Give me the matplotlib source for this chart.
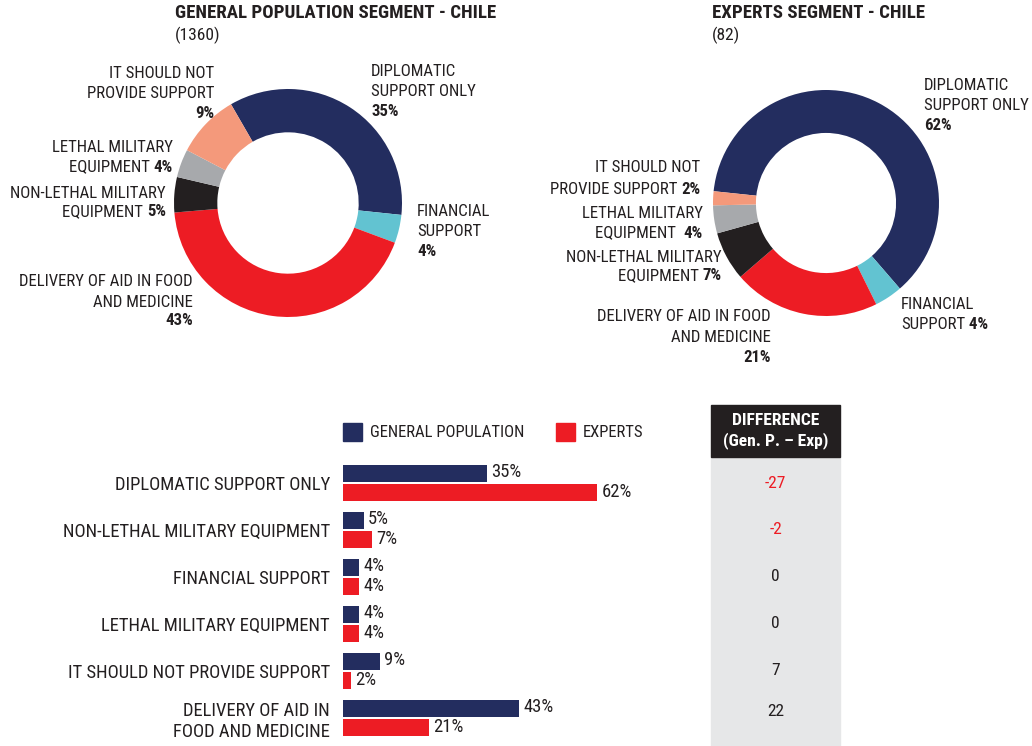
import matplotlib
matplotlib.use("Agg")
import matplotlib.pyplot as plt
import matplotlib.transforms as mtransforms
from matplotlib import font_manager
from matplotlib.patches import Rectangle
from matplotlib.text import Annotation

# prefer a condensed sans face; fall back to regular width at a smaller size
_available = {f.name for f in font_manager.fontManager.ttflist}
FAMILY = "Liberation Sans"
for cand in ["Liberation Sans Narrow", "Arial Narrow", "Roboto Condensed",
             "Open Sans Condensed", "Noto Sans Condensed"]:
    if cand in _available:
        FAMILY = cand
        break
SCALE = 1.0 if FAMILY != "Liberation Sans" else 0.86
plt.rcParams["font.family"] = [FAMILY, "DejaVu Sans"]

# ---- data ----
categories = [
    "DIPLOMATIC SUPPORT ONLY",
    "NON-LETHAL MILITARY EQUIPMENT",
    "FINANCIAL SUPPORT",
    "LETHAL MILITARY EQUIPMENT",
    "IT SHOULD NOT PROVIDE SUPPORT",
    "DELIVERY OF AID IN\nFOOD AND MEDICINE",
]
general = [35, 5, 4, 4, 9, 43]
experts = [62, 7, 4, 4, 2, 21]
general_n = 1360
experts_n = 82

# slice order around the donuts (indices into categories)
pie_order = [0, 2, 5, 1, 3, 4]

NAVY = "#232d5f"
RED = "#ed1c24"
CYAN = "#62c3d1"
BLACK = "#231f20"
GRAY = "#a7a9ac"
SALMON = "#f4997b"
TEXT = "#231f20"
slice_colors = {0: NAVY, 2: CYAN, 5: RED, 1: BLACK, 3: GRAY, 4: SALMON}

W, H = 1032, 746
fig = plt.figure(figsize=(W / 100, H / 100), dpi=100)

FS_DONUT = 12.1 * SCALE
FS_BAR = 13.4 * SCALE
FS_TITLE = 13.6 * SCALE
FS_LEG = 12 * SCALE


def fx(x):
    return x / W


def fy(y):
    return 1 - y / H


def donut(cx, cy, r, values, start):
    ax = fig.add_axes([fx(cx - r), fy(cy + r), 2 * r / W, 2 * r / H])
    vals = [values[i] for i in pie_order]
    cols = [slice_colors[i] for i in pie_order]
    ax.pie(vals, colors=cols, startangle=start, counterclock=False, radius=1,
           wedgeprops=dict(width=0.38, linewidth=0))
    ax.set_xlim(-1, 1)
    ax.set_ylim(-1, 1)
    ax.set_aspect("equal")
    ax.axis("off")
    return ax


def label_line(x, y, normal, bold, ha, fs):
    """One label line: regular text with an optional bold percentage after it."""
    kw = dict(fontsize=fs, color=TEXT)
    if ha == "right":
        anchor = fig.text(fx(x), fy(y), bold or normal, ha="right", va="center",
                          fontweight="bold" if bold else "normal", **kw)
        if bold and normal:
            fig.add_artist(Annotation(normal + " ", xy=(0, 0), xycoords=anchor,
                                      ha="right", va="bottom", **kw))
    else:
        anchor = fig.text(fx(x), fy(y), normal or bold, ha="left", va="center",
                          fontweight="normal" if normal else "bold", **kw)
        if bold and normal:
            fig.add_artist(Annotation(" " + bold, xy=(1, 0), xycoords=anchor,
                                      ha="left", va="bottom", fontweight="bold", **kw))


def pct(v):
    return f"{v}%"


# ---- donuts ----
donut(288, 203, 114, general, 120)
donut(826, 203, 113, experts, 174)

# (category index, x, alignment, [(y, regular text, bold flag)])
gen_labels = [
    (0, 371, "left", [(71, "DIPLOMATIC", False), (91, "SUPPORT ONLY", False), (112, "", True)]),
    (2, 417, "left", [(211, "FINANCIAL", False), (231, "SUPPORT", False), (251, "", True)]),
    (5, 193, "right", [(282, "DELIVERY OF AID IN FOOD", False), (302, "AND MEDICINE", False), (321, "", True)]),
    (1, 166, "right", [(193, "NON-LETHAL MILITARY", False), (212, "EQUIPMENT", True)]),
    (3, 173, "right", [(147, "LETHAL MILITARY", False), (167, "EQUIPMENT", True)]),
    (4, 214, "right", [(73, "IT SHOULD NOT", False), (93, "PROVIDE SUPPORT", False), (113, "", True)]),
]
exp_labels = [
    (0, 924, "left", [(85, "DIPLOMATIC", False), (105, "SUPPORT ONLY", False), (126, "", True)]),
    (2, 901, "left", [(305, "FINANCIAL", False), (325, "SUPPORT", True)]),
    (5, 771, "right", [(316, "DELIVERY OF AID IN FOOD", False), (337, "AND MEDICINE", False), (357, "", True)]),
    (1, 722, "right", [(257, "NON-LETHAL MILITARY", False), (276, "EQUIPMENT", True)]),
    (3, 703, "right", [(213, "LETHAL MILITARY", False), (233, "EQUIPMENT ", True)]),
    (4, 700, "right", [(168, "IT SHOULD NOT", False), (189, "PROVIDE SUPPORT", True)]),
]
for values, labels in ((general, gen_labels), (experts, exp_labels)):
    for idx, x, ha, lines in labels:
        for y, text, has_bold in lines:
            label_line(x, y, text, pct(values[idx]) if has_bold else "", ha, FS_DONUT)

fig.text(fx(175), fy(13), "GENERAL POPULATION SEGMENT - CHILE", fontsize=FS_TITLE,
         fontweight="bold", color=TEXT, ha="left", va="center")
fig.text(fx(175), fy(35), f"({general_n})", fontsize=FS_DONUT * 1.04, color=TEXT,
         ha="left", va="center")
fig.text(fx(712), fy(13), "EXPERTS SEGMENT - CHILE", fontsize=FS_TITLE,
         fontweight="bold", color=TEXT, ha="left", va="center")
fig.text(fx(712), fy(35), f"({experts_n})", fontsize=FS_DONUT * 1.04, color=TEXT,
         ha="left", va="center")

# ---- grouped horizontal bars ----
ax = fig.add_axes([fx(343), fy(746), 410 / W, (746 - 440) / H])
ypos = list(range(len(categories)))
bar_h = 0.36
off = 0.2
ax.barh([y - off for y in ypos], general, height=bar_h, color=NAVY, linewidth=0)
ax.barh([y + off for y in ypos], experts, height=bar_h, color=RED, linewidth=0)
for y, g, e in zip(ypos, general, experts):
    ax.annotate(f"{g}%", (g, y - off), xytext=(3, 1), textcoords="offset points",
                va="center", ha="left", fontsize=FS_BAR, color=TEXT)
    ax.annotate(f"{e}%", (e, y + off), xytext=(3, 0), textcoords="offset points",
                va="center", ha="left", fontsize=FS_BAR, color=TEXT)
ax.set_xlim(0, 100)
ax.set_ylim(5.596, -0.915)
ax.set_yticks(ypos)
ax.set_yticklabels(categories, fontsize=FS_BAR, color=TEXT)
ax.tick_params(axis="y", length=0, pad=9.5)
ax.set_xticks([])
for s in ax.spines.values():
    s.set_visible(False)
ax.patch.set_alpha(0)

# legend
fig.patches.append(Rectangle((fx(343), fy(441)), 19 / W, 18 / H, color=NAVY,
                             transform=fig.transFigure, figure=fig))
fig.text(fx(370), fy(432), "GENERAL POPULATION", fontsize=FS_LEG, color=TEXT,
         ha="left", va="center")
fig.patches.append(Rectangle((fx(556), fy(441)), 19 / W, 18 / H, color=RED,
                             transform=fig.transFigure, figure=fig))
fig.text(fx(583), fy(432), "EXPERTS", fontsize=FS_LEG, color=TEXT,
         ha="left", va="center")

# ---- difference column ----
fig.patches.append(Rectangle((fx(711), fy(746)), 129 / W, (746 - 457) / H,
                             color="#e6e7e8", transform=fig.transFigure, figure=fig,
                             zorder=0))
fig.patches.append(Rectangle((fx(711), fy(457)), 129 / W, 52 / H,
                             color=BLACK, transform=fig.transFigure, figure=fig,
                             zorder=0))
fig.text(fx(775.5), fy(420), "DIFFERENCE", fontsize=FS_LEG * 1.05, fontweight="bold",
         color="white", ha="center", va="center")
fig.text(fx(775.5), fy(441), "(Gen. P. – Exp)", fontsize=FS_LEG * 1.05, fontweight="bold",
         color="white", ha="center", va="center")
trans = mtransforms.blended_transform_factory(fig.transFigure, ax.transData)
n = len(categories)
for i, (y, g, e) in enumerate(zip(ypos, general, experts)):
    d = g - e
    # the two-line last row sits its figure a little higher
    yy = y - 0.13 if i == n - 1 else y
    fig.text(fx(775.5), yy, f"{d}", transform=trans, fontsize=FS_LEG * 1.05,
             color=RED if d < 0 else TEXT, ha="center", va="center")

fig.savefig("out.png", dpi=100)
